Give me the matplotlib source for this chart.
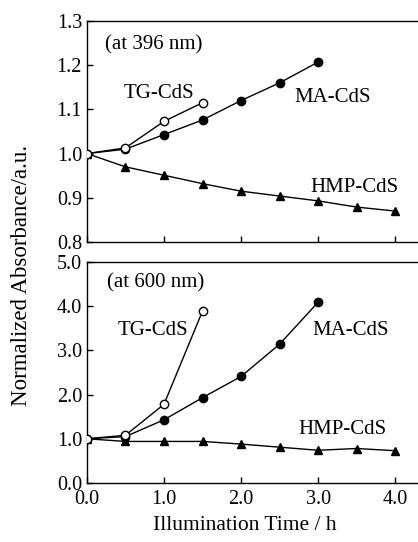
import matplotlib
matplotlib.use("Agg")
import matplotlib.pyplot as plt

plt.rcParams['font.family'] = ['Liberation Serif', 'DejaVu Serif']

# Top panel (at 396 nm)
t_tg = [0.0, 0.5, 1.0, 1.5]
top_tg = [1.0, 1.013, 1.073, 1.115]
t_ma = [0.0, 0.5, 1.0, 1.5, 2.0, 2.5, 3.0]
top_ma = [1.0, 1.010, 1.043, 1.076, 1.120, 1.160, 1.207]
t_hmp = [0.0, 0.5, 1.0, 1.5, 2.0, 2.5, 3.0, 3.5, 4.0]
top_hmp = [1.0, 0.970, 0.951, 0.932, 0.915, 0.904, 0.893, 0.879, 0.870]

# Bottom panel (at 600 nm)
bot_tg = [1.0, 1.08, 1.78, 3.89]
bot_ma = [1.0, 1.05, 1.43, 1.93, 2.41, 3.14, 4.09]
bot_hmp = [1.0, 0.94, 0.94, 0.94, 0.88, 0.81, 0.74, 0.78, 0.73]

x_ticks = [0.0, 1.0, 2.0, 3.0, 4.0]
top_yticks = [0.8, 0.9, 1.0, 1.1, 1.2, 1.3]
bot_yticks = [0.0, 1.0, 2.0, 3.0, 4.0, 5.0]

fig = plt.figure(figsize=(4.18, 5.42), dpi=100)
ax1 = fig.add_axes([0.208, 0.5535, 0.80, 0.4078])
ax2 = fig.add_axes([0.208, 0.1089, 0.80, 0.4077])

def draw(ax, tg, ma, hmp):
    ax.plot(t_hmp, hmp, color='black', lw=1.0, marker='^', ms=5.5, mfc='black', mec='black', zorder=2)
    ax.plot(t_ma, ma, color='black', lw=1.0, marker='o', ms=6, mfc='black', mec='black', zorder=3)
    ax.plot(t_tg, tg, color='black', lw=1.0, marker='o', ms=6, mfc='white', mec='black', mew=1.0, zorder=4)
    ax.set_xlim(0, 4.34)
    ax.set_xticks(x_ticks)
    ax.spines['right'].set_visible(False)
    for s in ['left', 'top', 'bottom']:
        ax.spines[s].set_linewidth(1.0)
    ax.tick_params(direction='in', length=4, width=1, labelsize=14.5, right=False, top=False)
    ax.tick_params(axis='y', pad=3.5)
    ax.tick_params(axis='x', pad=5)

draw(ax1, top_tg, top_ma, top_hmp)
ax1.set_ylim(0.8, 1.3)
ax1.set_yticks(top_yticks)
ax1.set_yticklabels([f"{v:.1f}" for v in top_yticks])
ax1.set_xticklabels([])
ax1.text(0.24, 1.246, "(at 396 nm)", fontsize=15, va='center', ha='left')
ax1.text(0.93, 1.137, "TG-CdS", fontsize=15, va='center', ha='center')
ax1.text(3.19, 1.126, "MA-CdS", fontsize=15, va='center', ha='center')
ax1.text(3.47, 0.924, "HMP-CdS", fontsize=15, va='center', ha='center')

draw(ax2, bot_tg, bot_ma, bot_hmp)
ax2.set_ylim(0.0, 5.0)
ax2.set_yticks(bot_yticks)
ax2.set_yticklabels([f"{v:.1f}" for v in bot_yticks])
ax2.set_xticklabels([f"{v:.1f}" for v in x_ticks])
ax2.text(0.26, 4.52, "(at 600 nm)", fontsize=15, va='center', ha='left')
ax2.text(0.86, 3.46, "TG-CdS", fontsize=15, va='center', ha='center')
ax2.text(3.42, 3.44, "MA-CdS", fontsize=15, va='center', ha='center')
ax2.text(3.32, 1.2, "HMP-CdS", fontsize=15, va='center', ha='center')

fig.text(245/418, 1 - 526/542, "Illumination Time / h", fontsize=15.5, ha='center', va='center')
fig.text(22/418, 1 - 275/542, "Normalized Absorbance/a.u.", fontsize=16.5, ha='center', va='center', rotation=90)

fig.savefig("out.png", dpi=100)
